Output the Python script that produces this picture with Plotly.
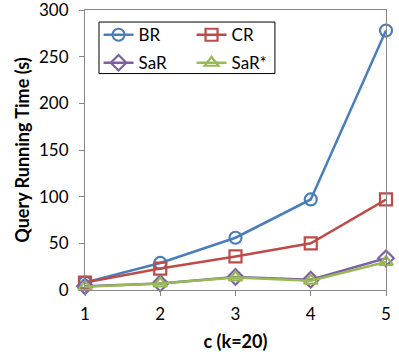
import plotly.graph_objects as go

c_values = [1, 2, 3, 4, 5]
br_time = [8, 29, 56, 97, 278]
cr_time = [8, 23, 36, 50, 97]
sar_time = [4, 7, 14, 11, 34]
sar_star_time = [3.5, 7, 13.5, 10, 30]

# name, values, colour, marker, which legend row
series = [
    ("BR", br_time, "#4A7EBB", "circle-open", "legend"),
    ("CR", cr_time, "#BE4B48", "square-open", "legend"),
    ("SaR", sar_time, "#7D60A0", "diamond-open", "legend2"),
    ("SaR*", sar_star_time, "#98B954", "triangle-up-open", "legend2"),
]

fig = go.Figure()
for name, vals, color, symbol, leg in series:
    fig.add_trace(
        go.Scatter(
            x=c_values,
            y=vals,
            name=name,
            legend=leg,
            mode="lines+markers",
            cliponaxis=False,
            line=dict(color=color, width=2.5),
            marker=dict(symbol=symbol, size=12, color=color, line=dict(width=2.2, color=color)),
        )
    )

font = "Lato, 'Open Sans', sans-serif"
legend_style = dict(
    orientation="h",
    x=0.045,
    xanchor="left",
    yanchor="middle",
    entrywidth=48,
    borderwidth=0,
    bgcolor="rgba(0,0,0,0)",
    font=dict(size=17),
)
fig.update_layout(
    width=399,
    height=362,
    margin=dict(l=85, r=13, t=10, b=72),
    paper_bgcolor="white",
    plot_bgcolor="white",
    font=dict(family=font, size=17, color="black"),
    legend=dict(legend_style, y=0.91),
    legend2=dict(legend_style, y=0.81),
    showlegend=True,
)
# legend frame
fig.add_shape(
    type="rect", xref="paper", yref="paper",
    x0=0.0465, x1=0.631, y0=0.773, y1=0.957,
    line=dict(color="black", width=1), fillcolor="white", layer="below",
)
axis_style = dict(
    ticks="outside",
    ticklen=5,
    tickcolor="#888888",
    showline=True,
    linecolor="#888888",
    linewidth=1,
    mirror=True,
    showgrid=False,
    zeroline=False,
    ticklabeloverflow="allow",
    automargin=False,
)
fig.update_xaxes(
    axis_style,
    range=[1, 5],
    tickvals=c_values,
    ticklabelstandoff=4,
    title=dict(text="<b>c (k=20)</b>", standoff=11, font=dict(family=font, size=18)),
)
fig.update_yaxes(
    axis_style,
    range=[0, 300],
    dtick=50,
    ticklabelstandoff=7,
    title=dict(text="<b>Query Running Time (s)</b>", standoff=4, font=dict(family=font, size=18)),
)

fig.write_html(
    "out.html",
    config={"displayModeBar": False},
    post_script="document.body.style.margin='0';",
)
